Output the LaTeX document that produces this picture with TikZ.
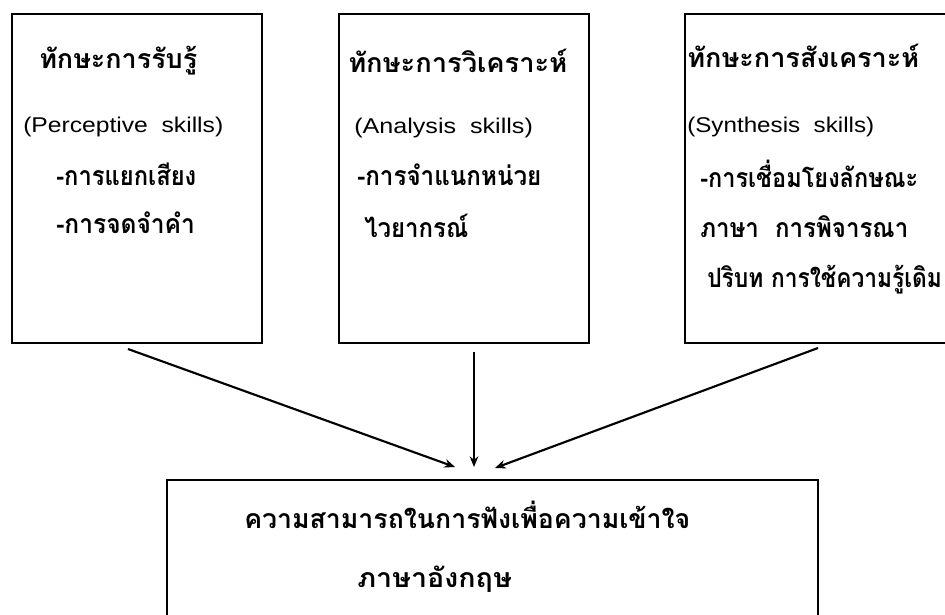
\documentclass[tikz,border=0pt]{standalone}
\usepackage{fontspec}
\usepackage{graphicx}
\setmainfont{Liberation Sans}
\newfontfamily\thai[Script=Thai]{Loma}
\usetikzlibrary{arrows.meta,fit}
\newcommand{\fw}[2]{\resizebox{#1}{\height}{#2}}
\begin{document}
\begin{tikzpicture}[x=0.75pt,y=-0.75pt,
  box/.style={draw,line width=2.1pt,inner sep=0pt},
  th/.style={anchor=base west,inner sep=0pt,font=\thai\bfseries\fontsize{20}{22}\selectfont},
  en/.style={anchor=base west,inner sep=0pt,font=\fontsize{16}{19}\selectfont},
  arr/.style={line width=1.6pt,-{Stealth[length=8pt,width=6.5pt]}}]
\useasboundingbox (0,0) rectangle (945,614);
\clip (0,0) rectangle (945,614);
% boxes
\node[box,fit={(12,14) (262,343)}] (b1) {};
\node[box,fit={(339,14) (589,343)}] (b2) {};
\node[box,fit={(685,14) (980,343)}] (b3) {};
\node[box,fit={(167,480) (818,640)}] (out) {};
% box 1 texts
\node[th] (b1a) at (39,68) {\fw{118.5pt}{ทักษะการรับรู้}};
\node[en] (b1b) at (23,132) {\fw{150pt}{(Perceptive\ \ skills)}};
\node[th] (b1c) at (56,185) {\fw{105pt}{-การแยกเสียง}};
\node[th] (b1d) at (56,233) {\fw{104pt}{-การจดจำคำ}};
% box 2 texts
\node[th] (b2a) at (348,72) {\fw{164.25pt}{ทักษะการวิเคราะห์}};
\node[en] (b2b) at (354,133) {\fw{134pt}{(Analysis\ \ skills)}};
\node[th] (b2c) at (357,185) {\fw{138pt}{-การจำแนกหน่วย}};
\node[th] (b2d) at (364,237) {\fw{78pt}{ไวยากรณ์}};
% box 3 texts
\node[th] (b3a) at (687,67) {\fw{174pt}{ทักษะการสังเคราะห์}};
\node[en] (b3b) at (687,132) {\fw{140.25pt}{(Synthesis\ \ skills)}};
\node[th] (b3c) at (700,187) {\fw{163.5pt}{-การเชื่อมโยงลักษณะ}};
\node[th] (b3d) at (700,237) {\fw{156pt}{ภาษา\ \ การพิจารณา}};
\node[th] (b3e) at (707,287) {\fw{176pt}{ปริบท การใช้ความรู้เดิม}};
% output texts
\node[th] (o1) at (244,528) {\fw{334.5pt}{ความสามารถในการฟังเพื่อความเข้าใจ}};
\node[th] (o2) at (357,587) {\fw{116pt}{ภาษาอังกฤษ}};
% arrow ends
\coordinate (s1) at (128,349);
\coordinate (s2) at (474,352);
\coordinate (s3) at (818,348);
\coordinate (e1) at (455,467);
\coordinate (e2) at (474,467);
\coordinate (e3) at (495,468);
\draw[arr] (s1) -- (e1);
\draw[arr] (s2) -- (e2);
\draw[arr] (s3) -- (e3);
\end{tikzpicture}
\end{document}
